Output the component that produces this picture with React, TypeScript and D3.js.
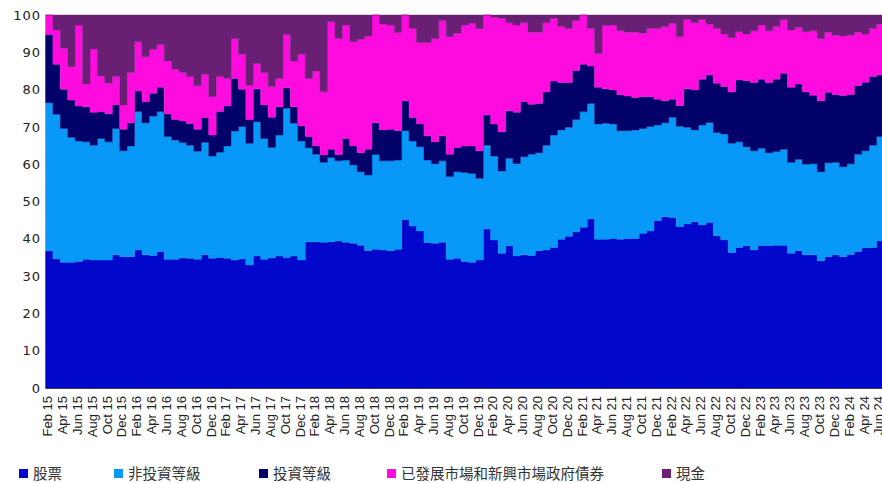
import React from "react";
import * as d3 from "d3";

const tickLabels = [
  "Feb 15","Apr 15","Jun 15","Aug 15","Oct 15","Dec 15",
  "Feb 16","Apr 16","Jun 16","Aug 16","Oct 16","Dec 16",
  "Feb 17","Apr 17","Jun 17","Aug 17","Oct 17","Dec 17",
  "Feb 18","Apr 18","Jun 18","Aug 18","Oct 18","Dec 18",
  "Feb 19","Apr 19","Jun 19","Aug 19","Oct 19","Dec 19",
  "Feb 20","Apr 20","Jun 20","Aug 20","Oct 20","Dec 20",
  "Feb 21","Apr 21","Jun 21","Aug 21","Oct 21","Dec 21",
  "Feb 22","Apr 22","Jun 22","Aug 22","Oct 22","Dec 22",
  "Feb 23","Apr 23","Jun 23","Aug 23","Oct 23","Dec 23",
  "Feb 24","Apr 24","Jun 24",
];

const yTicks = [0, 10, 20, 30, 40, 50, 60, 70, 80, 90, 100];

const seriesNames = ["股票", "非投資等級", "投資等級", "已發展市場和新興市場政府債券", "現金"];

const equity = [36.8,34.6,33.7,33.7,33.9,34.5,34.3,34.3,34.3,35.7,35.2,35.2,37.0,35.7,35.5,36.6,34.5,34.5,34.9,34.8,34.5,35.7,34.8,35.0,34.8,34.3,34.6,33.0,35.4,34.5,34.9,35.4,35.0,35.4,34.3,39.2,39.2,39.1,39.2,39.4,39.1,38.8,38.3,36.8,37.2,37.0,36.8,37.2,45.2,43.4,42.1,39.0,38.8,39.1,34.5,34.8,33.9,33.7,34.3,42.6,39.7,36.1,38.1,35.4,35.7,35.5,36.8,37.0,37.7,39.9,40.7,41.9,43.1,45.3,39.9,39.9,40.1,39.9,40.1,40.1,41.5,42.1,44.9,45.9,45.7,43.3,44.0,44.6,43.7,44.4,40.8,39.7,36.3,37.7,38.1,37.0,38.2,38.2,38.3,38.3,36.1,36.8,35.7,35.7,34.1,35.2,35.7,35.2,35.8,36.6,37.6,37.7,39.4];

const nonIG = [39.7,38.8,35.9,33.5,32.3,31.5,30.8,32.6,31.7,33.9,28.4,29.7,37.1,35.4,37.4,37.5,32.9,32.0,30.9,30.3,29.0,30.2,27.4,28.2,30.1,34.6,35.5,32.6,36.0,32.4,29.6,32.4,40.0,35.6,31.9,25.2,23.5,21.4,22.6,21.5,22.0,21.0,19.7,20.3,25.4,23.9,24.1,23.9,23.8,22.8,22.6,22.1,21.3,21.8,22.2,23.2,23.9,23.8,21.9,22.5,22.5,22.1,23.5,24.8,26.3,27.2,26.3,28.1,30.1,29.3,29.2,30.1,31.0,31.0,30.9,31.1,30.7,29.1,28.9,29.1,28.1,28.0,25.6,25.2,26.9,26.9,25.9,24.6,26.8,26.8,27.7,28.4,29.3,28.3,26.6,26.6,26.1,24.9,25.1,25.7,24.4,24.5,24.3,24.4,23.9,25.2,24.8,24.1,24.3,26.1,26.0,27.4,28.0];

const investmentGrade = [18.3,13.4,10.5,10.0,9.4,9.4,8.8,7.2,7.5,6.3,5.8,6.2,5.5,5.7,6.1,6.5,6.1,5.5,5.8,5.8,5.9,6.6,5.6,10.9,10.7,14.1,10.0,6.4,8.8,9.0,8.1,7.6,5.5,4.4,4.1,3.0,2.2,2.0,2.2,1.7,5.8,5.1,5.1,6.9,8.5,8.3,8.5,7.9,8.0,6.3,6.1,6.5,5.9,6.7,6.0,6.5,7.1,7.4,7.4,8.1,8.6,10.5,12.7,13.7,14.8,13.4,13.2,14.3,14.5,12.7,12.0,13.1,12.7,10.0,9.8,9.2,9.1,9.6,9.3,8.7,8.5,8.0,6.9,5.9,4.8,5.5,10.3,10.7,12.3,12.7,13.2,12.7,13.8,16.6,17.7,18.3,18.5,18.8,19.4,20.4,20.1,20.2,19.4,18.4,19.0,18.9,18.2,19.1,18.6,18.4,18.4,18.4,16.5];

const govtBonds = [5.2,9.2,11.0,8.9,21.7,6.1,16.9,9.5,8.2,7.6,6.5,13.5,13.2,12.0,11.8,11.5,14.2,13.5,13.0,12.6,11.6,11.6,10.3,9.4,7.4,10.7,9.4,9.2,6.8,8.7,8.2,7.6,14.3,12.3,19.2,15.6,20.1,16.9,34.2,31.1,30.4,27.9,30.4,30.4,28.9,28.4,27.9,26.3,23.0,23.9,21.8,25.0,27.7,30.9,31.5,30.6,32.4,32.9,32.8,26.8,28.6,30.4,23.6,23.4,21.1,19.3,19.1,18.5,16.8,15.0,14.5,13.4,13.2,10.1,9.1,17.0,17.4,17.2,17.1,17.5,17.0,18.3,19.0,19.9,20.4,18.5,18.6,18.0,16.0,13.6,14.7,14.1,14.5,12.9,12.5,13.9,14.5,13.9,14.1,14.3,15.4,15.2,16.1,17.3,16.7,16.1,15.9,16.0,15.9,14.3,12.9,12.9,13.7];

const cash = [0,4.0,8.9,13.9,2.7,18.5,9.2,16.4,18.3,16.5,24.1,15.4,7.2,11.2,9.2,7.9,12.3,14.5,15.4,16.5,19.0,15.9,21.9,16.5,17.0,6.3,10.5,18.8,13.0,15.4,19.2,17.0,5.2,12.3,10.5,17.0,15.0,20.6,1.8,6.3,2.7,7.2,6.5,5.6,0,2.4,2.7,4.7,0,3.6,7.4,7.4,6.3,1.5,5.8,4.9,2.7,2.2,3.6,0,0.6,0.9,2.1,2.7,2.1,4.6,4.6,2.1,0.9,3.1,3.6,1.5,0,3.6,10.3,2.8,2.7,4.2,4.6,4.6,4.9,3.6,3.6,3.1,2.2,5.8,1.2,2.1,1.2,2.5,3.6,5.1,6.1,4.5,5.1,4.2,2.7,4.2,3.1,1.3,4.0,3.3,4.5,4.2,6.3,4.6,5.4,5.6,5.4,4.6,5.1,3.6,2.4];

const colors = ["#0208CB", "#0798F8", "#020069", "#FE0CDF", "#691F74"];

const W = 882;
const H = 483;
const left = 45.5;
const right = 884;
const top = 15;
const bottom = 388;

export default function App() {
  const series = [equity, nonIG, investmentGrade, govtBonds, cash];
  const keys = ["k0", "k1", "k2", "k3", "k4"];
  const n = equity.length;
  const rows: any[] = [];
  for (let i = 0; i <= n; i++) {
    const j = Math.min(i, n - 1);
    const r: any = { i };
    keys.forEach((k, s) => (r[k] = series[s][j]));
    rows.push(r);
  }
  const stacked = d3.stack().keys(keys)(rows);
  const x = d3.scaleLinear().domain([0, n]).range([left, right]);
  const y = d3.scaleLinear().domain([0, 100]).range([bottom, top]);
  const area = d3
    .area<any>()
    .x((d: any) => x(d.data.i))
    .y0((d: any) => y(d[0]))
    .y1((d: any) => y(Math.min(100, d[1])))
    .curve(d3.curveStepAfter);

  const font = "'Liberation Sans', Arial, sans-serif";
  const legendX = [19, 114, 259, 387, 662];

  return (
    <svg
      width={W}
      height={H}
      style={{ position: "absolute", left: 0, top: 0, background: "#fff" }}
    >
      <g>
        {stacked.map((s, k) => (
          <path
            key={k}
            d={area(s as any) || ""}
            fill={colors[k]}
            stroke={colors[k]}
            strokeWidth={0.4}
          />
        ))}
      </g>
      <line x1={left} x2={W} y1={bottom + 0.5} y2={bottom + 0.5} stroke="#3a3a3a" strokeWidth={1} />
      <g fontFamily="'DejaVu Sans', sans-serif" fontSize={13} fill="#222">
        {yTicks.map((t) => (
          <text key={t} x={41} y={y(t)} dy="0.36em" textAnchor="end" letterSpacing={1}>
            {t}
          </text>
        ))}
      </g>
      <g fontFamily={font} fontSize={13} fill="#222">
        {tickLabels.map((lab, k) => (
          <text
            key={lab}
            transform={`translate(${x(2 * k + 0.5) - 1.5},${396}) rotate(-90)`}
            dy="0.35em"
            textAnchor="end"
          >
            {lab}
          </text>
        ))}
      </g>
      <g>
        {seriesNames.map((name, k) => (
          <g key={name}>
            <rect x={legendX[k]} y={469} width={9} height={9} fill={colors[k]} />
            <text
              x={legendX[k] + 14}
              y={478.5}
              fontSize={14.5}
              fill="#333"
              fontFamily="'Noto Sans CJK TC', sans-serif"
            >
              {name}
            </text>
          </g>
        ))}
      </g>
    </svg>
  );
}
